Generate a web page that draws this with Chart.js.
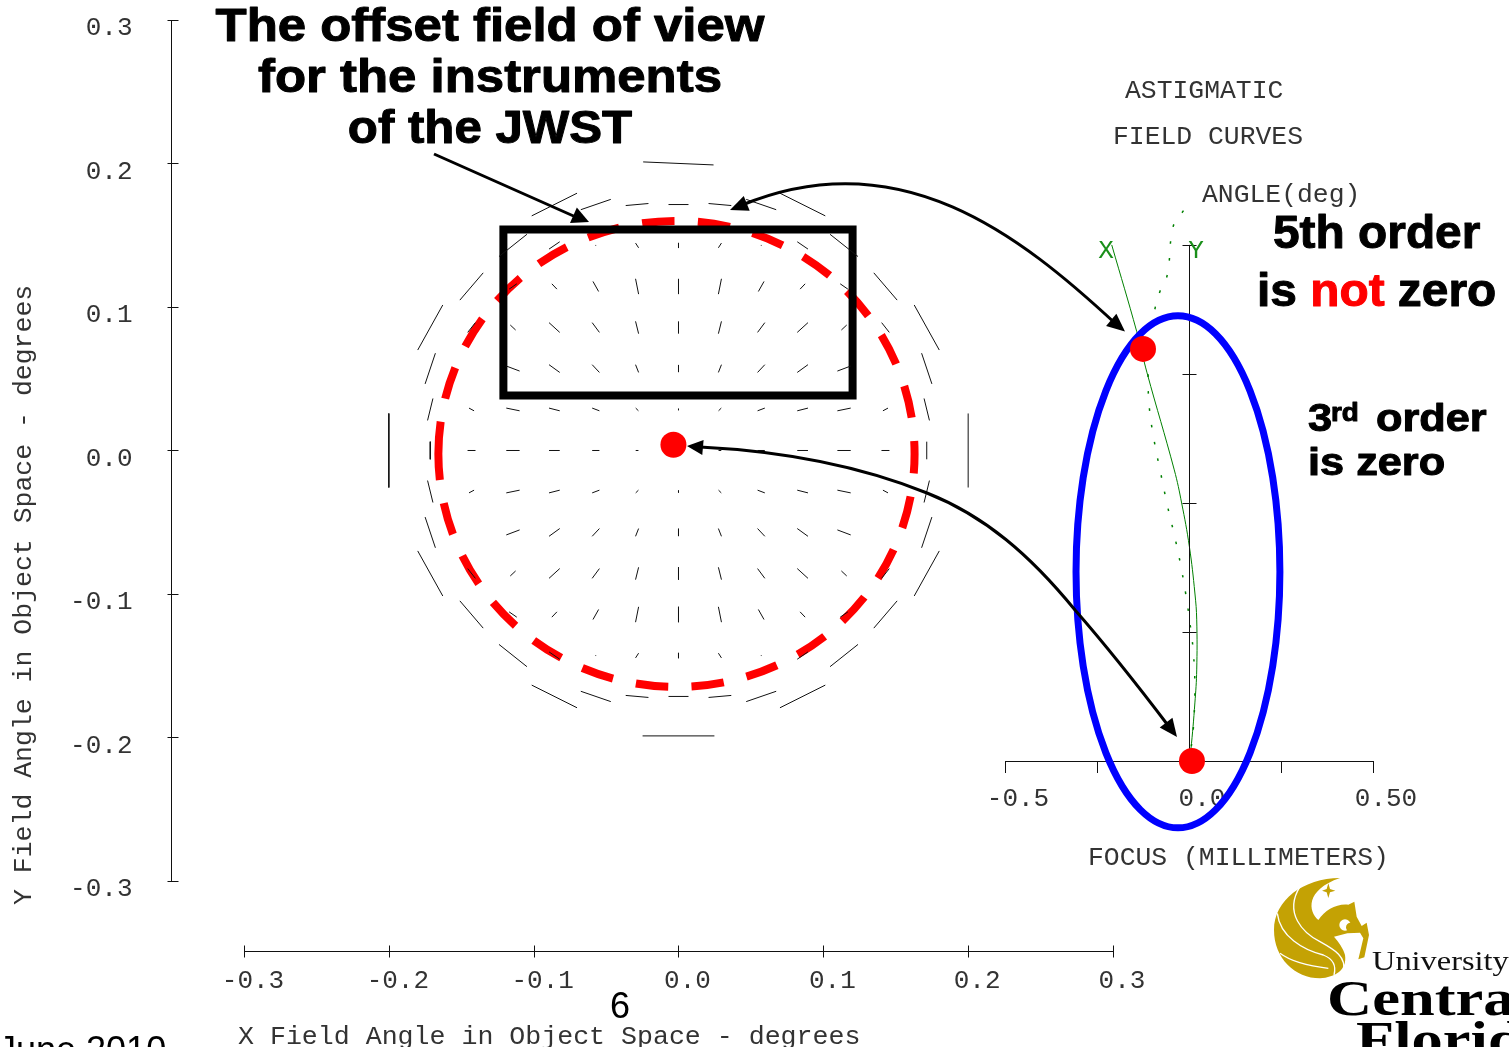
<!DOCTYPE html>
<html><head><meta charset="utf-8">
<script src="https://cdn.jsdelivr.net/npm/chart.js@4"></script>
<style>
html,body{margin:0;padding:0;background:#fff;overflow:hidden}
#wrap{position:relative;width:1509px;height:1047px}
canvas{position:absolute;left:0;top:0}
</style></head><body>
<div id="wrap"><canvas id="field" width="1509" height="1047"></canvas><canvas id="focus" width="1509" height="1047"></canvas></div>
<script>
// ---------- DATA ----------
const fieldTicks = [-0.3,-0.2,-0.1,0,0.1,0.2,0.3];
const gridValues = [0,0.0286,0.0571,0.0857,0.1143,0.1429,0.1714,0.2];
// astigmatism segment extents, rows = |y| grid index, cols = |x| grid index (lower-left quadrant sense)
const vecDX = [
 [null,.0019,.0050,.0074,.0092,.0055,0,0],
 [0,.0019,.0050,.0074,.0092,.0035,.0037],
 [0,.0021,.0050,.0074,.0092,.0005,.0071],
 [0,.0021,.0050,.0074,.0037,.0053,.0173],
 [0,.0021,.0039,.0035,.0053,.0161],
 [0,.0021,.0005,.0074,.0193],
 [.0138,.0157,.0207,.0313]
];
const vecDY = [
 [null,0,0,0,0,0,.0123,.0516],
 [.0014,.0019,.0019,.0019,.0019,.0019,-.0153],
 [.0051,.0054,.0054,.0054,.0035,0,-.0214],
 [.0086,.0086,.0068,.0068,.0035,-.0068,-.0314],
 [.0107,.0107,.0070,.0037,-.0037,-.0190],
 [.0037,.0033,0,-.0051,-.0155],
 [0,-.0014,-.0072,-.0158]
];
const edgeTopX = [-0.0244,0.0242], edgeTopY = [0.2011,0.1990];
const edgeBottomX = [-0.0248,0.0248], edgeBottomY = [-0.1989,-0.1989];
const boxX = [-0.1209,0.1202,0.1202,-0.1209,-0.1209,0.1202];
const boxY = [0.154,0.154,0.0383,0.0383,0.154,0.154];
const fieldDotX = [-0.0035], fieldDotY = [0.004];
const dashedCircle = {cx:-0.0014, cy:-0.0024, rx:0.1644, ry:0.1624};

const focusTicksX = [-0.5,-0.25,0,0.25,0.5];
const focusTickLabels = {'-0.5':'-0.5','0':'0.0','0.5':'0.50'};
const focusTicksY = [0.05,0.10,0.15,0.20];
const tangentialX = [-0.210,-0.142,-0.114,-0.040,-0.020,0.001,0.016,0.021,0.021,0.016,0.005,0];
const tangentialY = [0.200,0.1664,0.1504,0.1128,0.100,0.0831,0.0651,0.0547,0.0353,0.0225,0.0043,0];
const sagittalX = [-0.015,-0.043,-0.059,-0.079,-0.092,-0.106,-0.111,-0.108,-0.095,-0.077,-0.059,-0.038,-0.020,-0.005,0.005,0.012,0.016,0.012,0.005,0];
const sagittalY = [0.2133,0.2071,0.1884,0.1819,0.1756,0.1632,0.1504,0.1373,0.1244,0.1116,0.0992,0.0864,0.0740,0.0612,0.0508,0.0419,0.0287,0.0132,0.0043,0];
const focusDotX = [-0.125,0.008], focusDotY = [0.1597,0];
const blueEllipse = {cx:-0.030, cy:0.0733, rx:0.277, ry:0.0992};

// ---------- BUILD ----------
const zip=(a,b)=>a.map((v,i)=>({x:v,y:b[i]}));
const segPts=[];
vecDX.forEach((row,j)=>row.forEach((dx,i)=>{
  const dy=vecDY[j][i];
  if(dx===null) return;
  (i===0?[1]:[-1,1]).forEach(sx=>(j===0?[1]:[-1,1]).forEach(sy=>{
    const X=sx*gridValues[i],Y=sy*gridValues[j],s=sx*sy;
    segPts.push({x:X-dx/2,y:Y-s*dy/2},{x:X+dx/2,y:Y+s*dy/2},{x:X,y:null});
  }));
}));
[[edgeTopX,edgeTopY],[edgeBottomX,edgeBottomY]].forEach(e=>segPts.push(...zip(e[0],e[1]),{x:0,y:null}));

const MONO='"Liberation Mono","Courier New",monospace', SANS='"Liberation Sans",Arial,sans-serif', SERIF='"Liberation Serif",serif';
const INK='#333';
function txt(c,s,x,y,font,color,align,base){c.font=font;c.fillStyle=color||'#000';c.textAlign=align||'left';c.textBaseline=base||'alphabetic';c.fillText(s,x,y);}
function heavy(c,s,x,y,size,sx,color,align){
  c.save();c.translate(x,y);c.scale(sx,1);c.font='bold '+size+'px '+SANS;c.textAlign=align||'left';c.textBaseline='alphabetic';
  c.fillStyle=color||'#000';c.strokeStyle=color||'#000';c.lineWidth=1;c.lineJoin='round';
  c.strokeText(s,0,0);c.fillText(s,0,0);const w=c.measureText(s).width*sx;c.restore();return w;
}
function arrowHead(c,tx,ty,fx,fy,L,W){const a=Math.atan2(ty-fy,tx-fx);c.save();c.translate(tx,ty);c.rotate(a);c.beginPath();c.moveTo(0,0);c.lineTo(-L,W/2);c.lineTo(-L,-W/2);c.closePath();c.fillStyle='#000';c.fill();c.restore();}

const fieldPlugin={id:'fieldPlugin',
 beforeDatasetsDraw(ch){const c=ch.ctx,X=ch.scales.x,Y=ch.scales.y,e=dashedCircle;
  const cx=X.getPixelForValue(e.cx),cy=Y.getPixelForValue(e.cy);
  const rx=Math.abs(X.getPixelForValue(e.cx+e.rx)-cx),ry=Math.abs(Y.getPixelForValue(e.cy+e.ry)-cy);
  c.save();c.strokeStyle='#ff0000';c.lineWidth=8;c.setLineDash([32.5,23.4]);
  c.beginPath();c.ellipse(cx,cy,rx,ry,0,Math.PI,3*Math.PI);c.stroke();c.restore();
 },
 afterDraw(ch){const c=ch.ctx,X=ch.scales.x,Y=ch.scales.y;
  c.save();c.strokeStyle='#111';c.lineWidth=1;
  const ax=ch.chartArea.left+.5, ay=ch.chartArea.bottom+.5;
  c.beginPath();
  c.moveTo(X.getPixelForValue(-.3),ay);c.lineTo(X.getPixelForValue(.3),ay);
  fieldTicks.forEach(v=>{const p=Math.round(X.getPixelForValue(v))+.5;c.moveTo(p,ay-6);c.lineTo(p,ay+6);});
  c.moveTo(ax,Y.getPixelForValue(.3));c.lineTo(ax,Y.getPixelForValue(-.3));
  fieldTicks.forEach(v=>{const p=Math.round(Y.getPixelForValue(v))+.5;c.moveTo(ax-4,p);c.lineTo(ax+7,p);});
  c.stroke();
  txt(c,'X Field Angle in Object Space - degrees',238,1044,'26.6px '+MONO,INK);
  c.translate(31,905);c.rotate(-Math.PI/2);
  txt(c,'Y Field Angle in Object Space - degrees',0,0,'26.5px '+MONO,INK);
  c.restore();
  heavy(c,'The offset field of view',490,41,46,1.107,'#000','center');
  heavy(c,'for the instruments',490,92,46,1.107,'#000','center');
  heavy(c,'of the JWST',490,143,46,1.07,'#000','center');
  txt(c,'6',620,1018,'36px '+SANS,'#000','center');
  txt(c,'June 2010',-2,1062,'36px '+SANS,'#000');
 }};

function logo(c){
 c.save();c.translate(1260,870);c.scale(1/3,1/3);c.fillStyle='#c4a204';
 c.beginPath();c.moveTo(240,24);c.bezierCurveTo(130,25,42,90,42,180);c.bezierCurveTo(42,265,105,325,180,325);
 c.bezierCurveTo(225,322,262,300,255,255);c.bezierCurveTo(250,235,235,215,222,200);
 c.lineTo(262,190);c.lineTo(300,188);c.lineTo(310,205);c.lineTo(295,268);c.lineTo(313,262);c.lineTo(327,195);c.lineTo(320,158);c.lineTo(305,168);c.lineTo(290,140);c.lineTo(283,95);c.lineTo(265,104);
 c.bezierCurveTo(230,100,195,120,175,150);c.bezierCurveTo(145,125,135,60,240,24);c.closePath();c.fill();
 c.fillStyle='#fff';c.beginPath();c.arc(255,165,17,0,7);c.fill();c.fillStyle='#c4a204';c.beginPath();c.arc(272,172,14,0,7);c.fill();
 c.strokeStyle='#fff';c.lineWidth=4;
 c.beginPath();c.moveTo(120,50);c.bezierCurveTo(70,130,130,190,180,215);c.bezierCurveTo(225,240,260,260,250,305);c.stroke();
 c.beginPath();c.moveTo(52,130);c.bezierCurveTo(60,200,130,240,190,255);c.bezierCurveTo(215,265,230,285,222,315);c.stroke();
 c.beginPath();c.moveTo(60,250);c.bezierCurveTo(100,280,160,290,205,295);c.stroke();
 c.fillStyle='#c4a204';c.beginPath();c.moveTo(205,40);c.lineTo(210,57);c.lineTo(226,62);c.lineTo(210,67);c.lineTo(205,84);c.lineTo(200,67);c.lineTo(186,62);c.lineTo(200,57);c.closePath();c.fill();
 c.restore();
 c.save();c.translate(1372,970);c.scale(1.2,1);txt(c,'University',0,0,'27px '+SERIF,'#111');c.restore();
 c.save();c.translate(1327,1015);c.scale(1.25,1);txt(c,'Central',0,0,'bold 50px '+SERIF,'#000');c.restore();
 c.save();c.translate(1356,1056);c.scale(1.25,1);txt(c,'Florida',0,0,'bold 50px '+SERIF,'#000');c.restore();
}

const focusPlugin={id:'focusPlugin',
 afterDraw(ch){const c=ch.ctx,X=ch.scales.x,Y=ch.scales.y,e=blueEllipse;
  const zx=Math.round(X.getPixelForValue(0))+.5;
  c.save();
  c.strokeStyle='#111';c.lineWidth=1;c.beginPath();
  c.moveTo(zx,Y.getPixelForValue(0));c.lineTo(zx,Y.getPixelForValue(.2));
  focusTicksY.forEach(v=>{const p=Math.round(Y.getPixelForValue(v))+.5;c.moveTo(zx-7,p);c.lineTo(zx+7,p);});
  c.stroke();
  [['ASTIGMATIC',1125,98],['FIELD CURVES',1113,144],['ANGLE(deg)',1202,202],['FOCUS (MILLIMETERS)',1088,865]].forEach(t=>txt(c,t[0],t[1],t[2],'26.4px '+MONO,INK));
  txt(c,'X',1106,258,'26px '+MONO,'#1a8f1a','center');
  txt(c,'Y',1196,258,'26px '+MONO,'#1a8f1a','center');
  const cx=X.getPixelForValue(e.cx),cy=Y.getPixelForValue(e.cy);
  c.strokeStyle='#0000ff';c.lineWidth=7;c.beginPath();
  c.ellipse(cx,cy,Math.abs(X.getPixelForValue(e.cx+e.rx)-cx),Math.abs(Y.getPixelForValue(e.cy+e.ry)-cy),0,0,2*Math.PI);c.stroke();
  const meta=ch.getDatasetMeta(2);meta.data.forEach(p=>{c.fillStyle='#ff0000';c.beginPath();c.arc(p.x,p.y,13,0,7);c.fill();});
  c.strokeStyle='#000';c.lineWidth=3;c.lineCap='butt';
  c.beginPath();c.moveTo(434,154);c.lineTo(578,218);c.stroke();arrowHead(c,589,222,434,154,17,17);
  c.beginPath();c.moveTo(1117,325);c.bezierCurveTo(1020,235,900,140,742,205);c.stroke();
  arrowHead(c,1125,331.5,1090,302,18,16);arrowHead(c,730,210,780,190,18,16);
  c.beginPath();c.moveTo(700,447);c.bezierCurveTo(800,452,870,470,927,493);c.bezierCurveTo(985,516,1030,555,1075,610);c.bezierCurveTo(1110,650,1145,695,1170,728);c.stroke();
  arrowHead(c,687,446,720,449,16,15);arrowHead(c,1177,737,1145,695,18,16);
  heavy(c,'5th order',1273,248,46,1.04);
  let x=1257;x+=heavy(c,'is ',x,306,46,1.04);x+=heavy(c,'not ',x,306,46,1.04,'#ff0000');heavy(c,'zero',x,306,46,1.04);
  heavy(c,'3',1308,431,39,1.11);heavy(c,'rd',1331,421,25,1.11);heavy(c,'order',1376,431,39,1.11);
  heavy(c,'is zero',1308,475,39,1.11);
  c.restore();
  logo(c);
 }};

Chart.defaults.animation=false;
const common={responsive:false,devicePixelRatio:1,animation:false,plugins:{legend:{display:false},tooltip:{enabled:false}},events:[]};
const tickFont={family:'Liberation Mono',size:26};
const noPad=s=>{s.paddingTop=0;s.paddingBottom=0;s.paddingLeft=0;s.paddingRight=0;};

new Chart(document.getElementById('field'),{type:'scatter',
 data:{datasets:[
  {label:'Astigmatism',data:segPts,showLine:true,spanGaps:false,pointRadius:0,borderColor:'#111',borderWidth:1},
  {label:'Field dot',data:zip(fieldDotX,fieldDotY),pointRadius:13,pointBackgroundColor:'#ff0000',pointBorderWidth:0,showLine:false},
  {label:'Instrument field',data:zip(boxX,boxY),showLine:true,pointRadius:0,borderColor:'#000',borderWidth:8,borderJoinStyle:'miter'}
 ]},
 options:{...common,layout:{padding:{left:0,top:20,right:396,bottom:0}},
  scales:{
   x:{type:'linear',min:-0.3504,max:0.3,grid:{display:false,drawTicks:false},border:{display:false},
      afterFit(s){s.height=96;noPad(s);},afterBuildTicks(s){s.ticks=fieldTicks.map(v=>({value:v}));},
      ticks:{autoSkip:false,maxRotation:0,padding:15,labelOffset:9,color:INK,font:tickFont,callback:v=>v.toFixed(1)}},
   y:{type:'linear',min:-0.3488,max:0.3,grid:{display:false,drawTicks:false},border:{display:false},
      afterFit(s){s.width=171;noPad(s);},afterBuildTicks(s){s.ticks=fieldTicks.map(v=>({value:v}));},
      ticks:{autoSkip:false,padding:38.5,labelOffset:8.5,color:INK,font:tickFont,callback:v=>v.toFixed(1)}}
  }},
 plugins:[fieldPlugin]});

new Chart(document.getElementById('focus'),{type:'scatter',
 data:{datasets:[
  {label:'X',data:zip(tangentialX,tangentialY),showLine:true,pointRadius:0,borderColor:'#008000',borderWidth:1,tension:0.4},
  {label:'Y',data:zip(sagittalX,sagittalY),showLine:true,pointRadius:0,borderColor:'#008000',borderWidth:1.5,borderDash:[2.5,14.5],tension:0.4},
  {label:'Focus dots',data:zip(focusDotX,focusDotY),pointRadius:0,showLine:false}
 ]},
 options:{...common,layout:{padding:{left:1005,top:200,right:0,bottom:0}},
  scales:{
   x:{type:'linear',min:-0.5,max:0.5,grid:{drawOnChartArea:false,tickLength:12,color:'#111'},border:{display:true,color:'#111'},
      afterFit(s){s.height=286;noPad(s);},afterBuildTicks(s){s.ticks=focusTicksX.map(v=>({value:v}));},
      ticks:{autoSkip:false,maxRotation:0,padding:11,labelOffset:13,color:INK,font:tickFont,callback:v=>focusTickLabels[String(v)]||''}},
   y:{type:'linear',position:'right',min:0,max:0.2174,grid:{display:false,drawTicks:false},border:{display:false},
      afterFit(s){s.width=136;noPad(s);},afterBuildTicks(s){s.ticks=focusTicksY.map(v=>({value:v}));},
      ticks:{autoSkip:false,padding:-168,labelOffset:10,color:INK,font:tickFont,callback:v=>v.toFixed(2)}}
  }},
 plugins:[focusPlugin]});
</script></body></html>
